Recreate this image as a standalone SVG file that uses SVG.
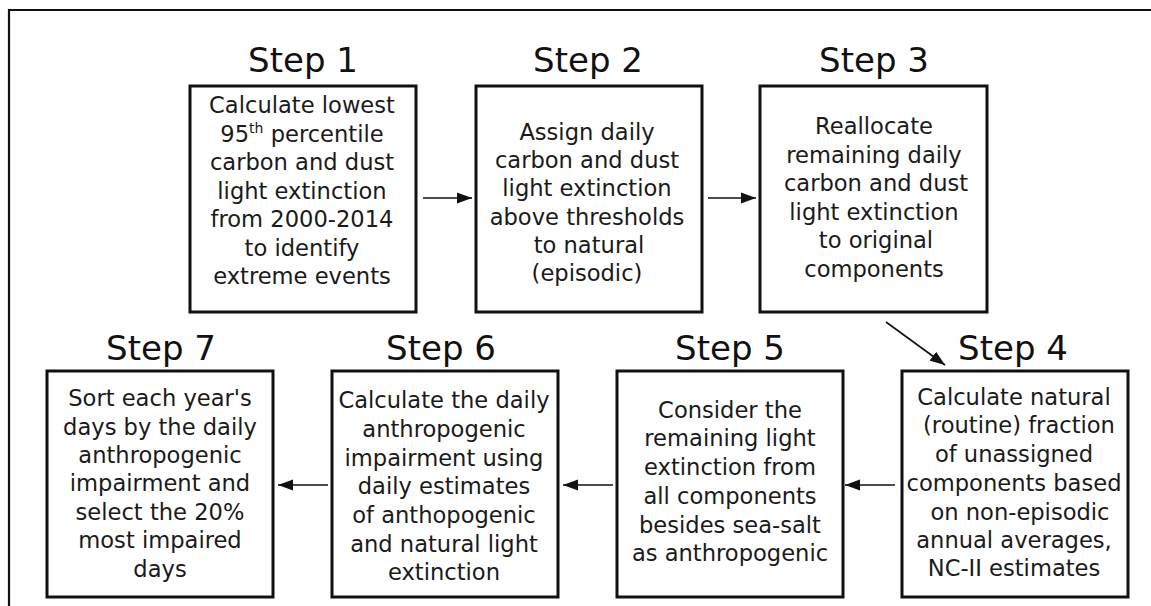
<svg xmlns="http://www.w3.org/2000/svg" width="1151" height="606" viewBox="0 0 1151 606">
<style>
.frame{fill:none;stroke:#111;stroke-width:2.2}
.box{fill:#fff;stroke:#111;stroke-width:3}
.title{font-family:"DejaVu Sans",Verdana,sans-serif;font-size:34px;fill:#111;text-anchor:middle}
.body{font-family:"DejaVu Sans",Verdana,sans-serif;font-size:22.6px;fill:#1a1a1a;text-anchor:middle}
.conn{stroke:#111;stroke-width:1.6;fill:none;marker-end:url(#arr)}
</style>
<defs>
<marker id="arr" markerUnits="userSpaceOnUse" markerWidth="16" markerHeight="12" refX="15" refY="6" orient="auto">
<path d="M0,0.5 L15,6 L0,11.5 z" fill="#111"/>
</marker>
</defs>
<rect width="1151" height="606" fill="#fff"/>
<path class="frame" d="M9,606 V10 H1151"/>

<g id="step1">
<text class="title" x="303" y="72">Step 1</text>
<rect class="box" x="190" y="86" width="226" height="226"/>
<text class="body" x="302" y="113">Calculate lowest</text>
<text class="body" x="302" y="141.5">95<tspan font-size="14" dy="-9">th</tspan><tspan dy="9"> percentile</tspan></text>
<text class="body" x="302" y="170">carbon and dust</text>
<text class="body" x="302" y="198.5">light extinction</text>
<text class="body" x="302" y="227">from 2000-2014</text>
<text class="body" x="302" y="255.5">to identify</text>
<text class="body" x="302" y="284">extreme events</text>
</g>

<g id="step2">
<text class="title" x="588" y="72">Step 2</text>
<rect class="box" x="476" y="86" width="226" height="226"/>
<text class="body" x="587" y="140">Assign daily</text>
<text class="body" x="587" y="168">carbon and dust</text>
<text class="body" x="587" y="196">light extinction</text>
<text class="body" x="587" y="225">above thresholds</text>
<text class="body" x="589" y="253">to natural</text>
<text class="body" x="587" y="281">(episodic)</text>
</g>

<g id="step3">
<text class="title" x="874" y="72">Step 3</text>
<rect class="box" x="760" y="86" width="227" height="226"/>
<text class="body" x="874" y="134">Reallocate</text>
<text class="body" x="874" y="163">remaining daily</text>
<text class="body" x="876" y="191">carbon and dust</text>
<text class="body" x="874" y="220">light extinction</text>
<text class="body" x="876" y="248">to original</text>
<text class="body" x="874" y="277">components</text>
</g>

<g id="step4">
<text class="title" x="1013" y="360">Step 4</text>
<rect class="box" x="902" y="371" width="226" height="226"/>
<text class="body" x="1014" y="405">Calculate natural</text>
<text class="body" x="1019" y="433">(routine) fraction</text>
<text class="body" x="1014" y="462">of unassigned</text>
<text class="body" x="1014" y="491">components based</text>
<text class="body" x="1020" y="520">on non-episodic</text>
<text class="body" x="1014" y="548">annual averages,</text>
<text class="body" x="1014" y="576">NC-II estimates</text>
</g>

<g id="step5">
<text class="title" x="730" y="360">Step 5</text>
<rect class="box" x="617" y="371" width="226" height="226"/>
<text class="body" x="730" y="418">Consider the</text>
<text class="body" x="730" y="446">remaining light</text>
<text class="body" x="730" y="475">extinction from</text>
<text class="body" x="730" y="504">all components</text>
<text class="body" x="730" y="533">besides sea-salt</text>
<text class="body" x="730" y="561">as anthropogenic</text>
</g>

<g id="step6">
<text class="title" x="441" y="360">Step 6</text>
<rect class="box" x="332" y="371" width="226" height="226"/>
<text class="body" x="444" y="408">Calculate the daily</text>
<text class="body" x="444" y="437">anthropogenic</text>
<text class="body" x="444" y="466">impairment using</text>
<text class="body" x="444" y="494">daily estimates</text>
<text class="body" x="444" y="523">of anthopogenic</text>
<text class="body" x="444" y="552">and natural light</text>
<text class="body" x="444" y="580">extinction</text>
</g>

<g id="step7">
<text class="title" x="161" y="360">Step 7</text>
<rect class="box" x="47" y="371" width="226" height="226"/>
<text class="body" x="160" y="406">Sort each year's</text>
<text class="body" x="160" y="435">days by the daily</text>
<text class="body" x="160" y="463">anthropogenic</text>
<text class="body" x="160" y="491">impairment and</text>
<text class="body" x="160" y="520">select the 20%</text>
<text class="body" x="160" y="548">most impaired</text>
<text class="body" x="160" y="577">days</text>
</g>

<g id="connectors">
<line class="conn" x1="423" y1="198" x2="472" y2="198"/>
<line class="conn" x1="708" y1="198" x2="756" y2="198"/>
<line class="conn" x1="886" y1="322" x2="945" y2="365"/>
<line class="conn" x1="895" y1="485" x2="845" y2="485"/>
<line class="conn" x1="613" y1="485" x2="563" y2="485"/>
<line class="conn" x1="328" y1="485" x2="278" y2="485"/>
</g>
</svg>
